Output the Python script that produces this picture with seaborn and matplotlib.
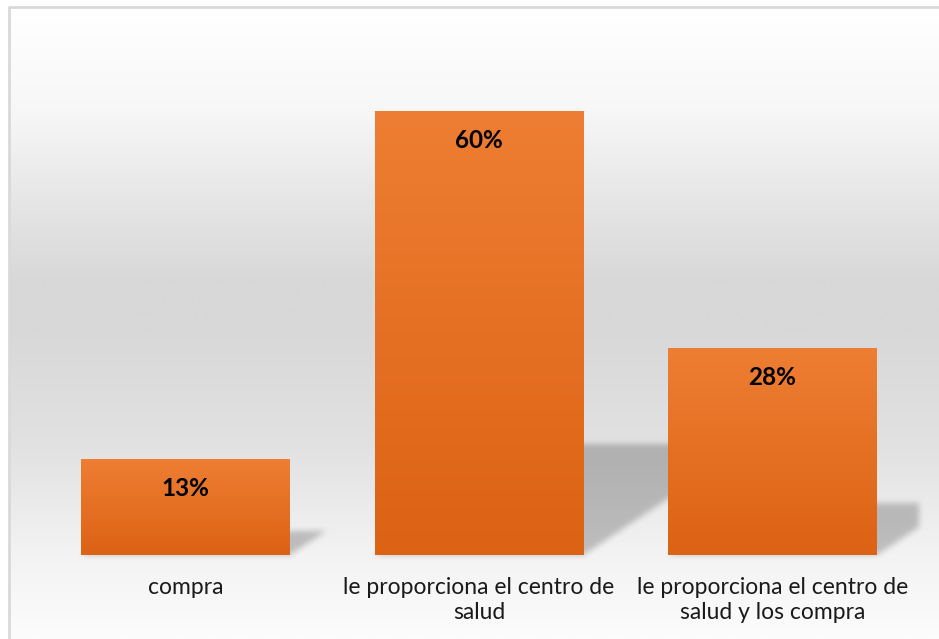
import textwrap
import numpy as np
import matplotlib
matplotlib.use("Agg")
import matplotlib.pyplot as plt
from matplotlib.patches import Polygon
import matplotlib.colors as mcolors
import seaborn as sns

# Survey answers: how the medicine is obtained
categories = ["compra",
              "le proporciona el centro de salud",
              "le proporciona el centro de salud y los compra"]
values = [13, 60, 28]
value_labels = ["13%", "60%", "28%"]

W, H, DPI = 939, 639, 100

sns.set_theme(style="white")
plt.rcParams["font.family"] = ["Lato", "DejaVu Sans"]

fig = plt.figure(figsize=(W / DPI, H / DPI), dpi=DPI)
fig.patch.set_facecolor("white")

# ---- chart-area background: vertical grey gradient with a thin frame ----
bg = fig.add_axes([0, 0, 1, 1], zorder=0)
bg.set_xlim(0, W)
bg.set_ylim(H, 0)
bg.axis("off")
ys = np.arange(8, H + 1)
stops_y = [8, 110, 200, 280, 330, 450, 555, 639]
stops_v = [255, 247, 230, 216, 216, 226, 243, 252]
shade = np.interp(ys, stops_y, stops_v) / 255.0
grad = np.repeat(shade[:, None], 3, axis=1)[:, None, :]
bg.imshow(grad, extent=[10, W, H, 8], aspect="auto", interpolation="bilinear")
bg.plot([9, 9, W], [H, 7, 7], color="#d9d9d9", lw=2, solid_capstyle="butt")

# ---- main bar axes ----
left_px, right_px, base_px, top_px = 38.75, 919.25, 555, 37
ax = fig.add_axes([left_px / W, (H - base_px) / H,
                   (right_px - left_px) / W, (base_px - top_px) / H], zorder=1)
ax.patch.set_alpha(0)

labels = [textwrap.fill(c, 27) for c in categories]
bar_w = 0.712
sns.barplot(x=labels, y=values, ax=ax, color="#ED7D31", saturation=1,
            width=bar_w, edgecolor="none", zorder=3)
ax.set_ylim(0, 70)
ax.set_xlim(-0.5, len(values) - 0.5)
sns.despine(ax=ax, left=True, bottom=True)
ax.set_yticks([])
ax.set_ylabel("")
ax.tick_params(axis="x", length=0, pad=16, labelsize=16.5, labelcolor="#1a1a1a")
for t in ax.get_xticklabels():
    t.set_linespacing(1.22)


# soft blurred drop shadow (agg filter on the alpha channel)
def blur_filter(sigma_px, color=(0, 0, 0), alpha=0.22):
    def _f(im, dpi):
        pad = int(3 * sigma_px) + 1
        a = np.pad(im[:, :, 3], pad)
        k = np.exp(-0.5 * (np.arange(-pad, pad + 1) / sigma_px) ** 2)
        k /= k.sum()
        tmp = np.zeros_like(a)
        for i, w in enumerate(k):
            tmp += w * np.roll(a, i - pad, axis=0)
        out_a = np.zeros_like(a)
        for i, w in enumerate(k):
            out_a += w * np.roll(tmp, i - pad, axis=1)
        out = np.empty(a.shape + (4,), dtype=im.dtype)
        out[:, :, :3] = color
        out[:, :, 3] = np.clip(out_a * alpha, 0, 1)
        return out, -pad, -pad
    return _f


px_per_unit_x = (right_px - left_px) / 3.0
px_per_unit_y = (base_px - top_px) / 70.0

top_c = np.array(mcolors.to_rgb("#EE7E33"))
bot_c = np.array(mcolors.to_rgb("#DC6214"))
ramp = np.linspace(0, 1, 256)[:, None]
bar_grad = (top_c[None, :] * (1 - ramp) + bot_c[None, :] * ramp)[:, None, :]

for p, v, lab in zip(ax.patches, values, value_labels):
    x0, w, h = p.get_x(), p.get_width(), p.get_height()
    x1 = x0 + w
    # perspective shadow falling to the right of the bar
    hs = 0.25 * h
    skew = 1.5 * hs * px_per_unit_y / px_per_unit_x
    sh = Polygon([(x0, 0), (x1, 0), (x1 + skew, hs), (x0 + skew, hs)],
                 closed=True, facecolor="black", edgecolor="none", zorder=2)
    sh.set_agg_filter(blur_filter(3.0))
    ax.add_patch(sh)
    # vertical orange gradient fill
    im = ax.imshow(bar_grad, extent=[x0, x1, 0, h], aspect="auto",
                   interpolation="bilinear", zorder=4)
    im.set_clip_path(p)
    ax.annotate(lab, xy=(x0 + w / 2, h), xytext=(0, -21.6),
                textcoords="offset points", ha="center", va="center",
                fontsize=17.5, fontweight="bold", color="black", zorder=5)

ax.set_xlim(-0.5, len(values) - 0.5)
ax.set_ylim(0, 70)

fig.savefig("out.png", dpi=DPI)
